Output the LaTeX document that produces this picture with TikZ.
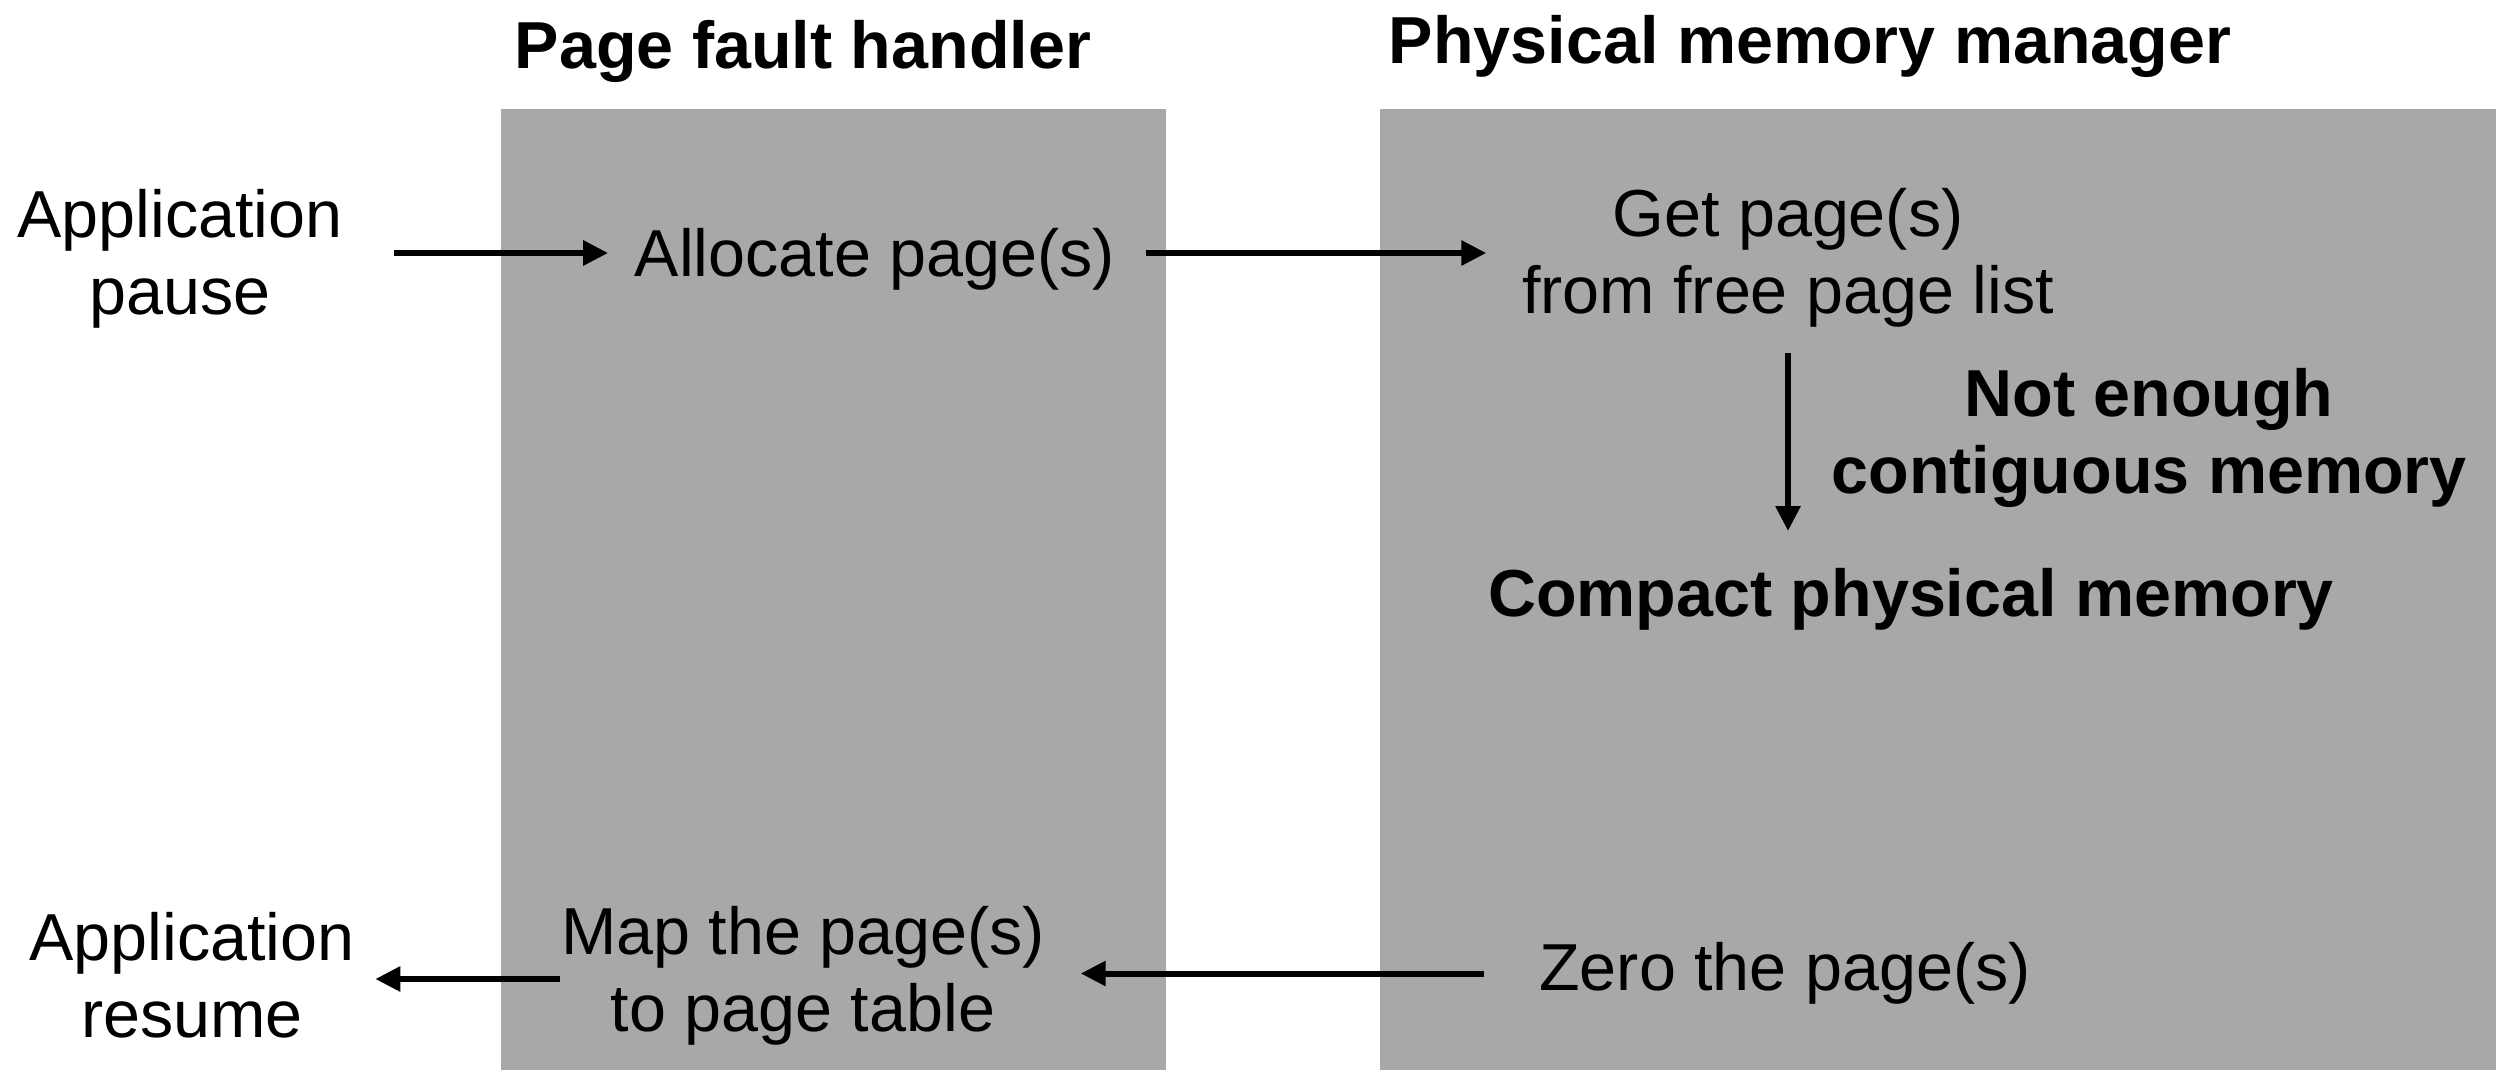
\documentclass[tikz,border=0pt]{standalone}
\usepackage{fontspec}
\setmainfont{Liberation Sans}
\usetikzlibrary{arrows.meta}
\definecolor{panelgray}{RGB}{166,169,168}
\tikzset{
  lbl/.style={inner sep=0pt, align=center, font=\fontsize{18.9}{22}\selectfont},
  blbl/.style={lbl, font=\fontsize{18.9}{22}\selectfont\bfseries},
  flow/.style={line width=1.7pt, -{Triangle[length=7.1pt,width=6.8pt]}},
  panel/.style={fill=panelgray, draw=none}
}
\begin{document}
\begin{tikzpicture}[x=0.01cm, y=-0.01cm]
  \useasboundingbox (0,0) rectangle (2504,1070);
  % the two swim lanes
  \fill[panel] (501,109) rectangle (1166,1070);
  \fill[panel] (1380,109) rectangle (2496,1070);
  % lane headings
  \node[blbl, anchor=base] (h1) at (803,68.3) {Page fault handler};
  \node[blbl, anchor=base] (h2) at (1810,63.3) {Physical memory manager};
  % steps
  \node[lbl] (pause) at (180,259) {Application\\pause};
  \node[lbl] (alloc) at (875,259.5) {Allocate page(s)};
  \node[lbl] (getp) at (1788,258) {Get page(s)\\from free page list};
  \node[blbl] (enough) at (2149,438) {Not enough\\contiguous memory};
  \node[blbl] (compact) at (1911,599.7) {Compact physical memory};
  \node[lbl] (zero) at (1785,973.5) {Zero the page(s)};
  \node[lbl] (map) at (803,975.5) {Map the page(s)\\to page table};
  \node[lbl] (resume) at (192,975.4) {Application\\resume};
  % connectors
  \draw[flow, shorten <=0.51cm, shorten >=0.26cm]
    ([yshift=0.065cm]alloc.west -| pause.east) -- ([yshift=0.065cm]alloc.west);
  \draw[flow, shorten <=0.30cm, shorten >=0.35cm]
    ([yshift=0.065cm]alloc.east) -- ([yshift=0.065cm]alloc.east -| getp.west);
  \draw[flow, shorten <=0.25cm, shorten >=0.37cm]
    (getp.south) -- (getp.south |- compact.north);
  \draw[flow, shorten <=0.55cm, shorten >=0.35cm]
    (zero.west) -- (zero.west -| map.east);
  \draw[flow, shorten <=0cm, shorten >=0.20cm]
    ([yshift=-0.036cm]resume.east -| map.west) -- ([yshift=-0.036cm]resume.east);
\end{tikzpicture}
\end{document}
